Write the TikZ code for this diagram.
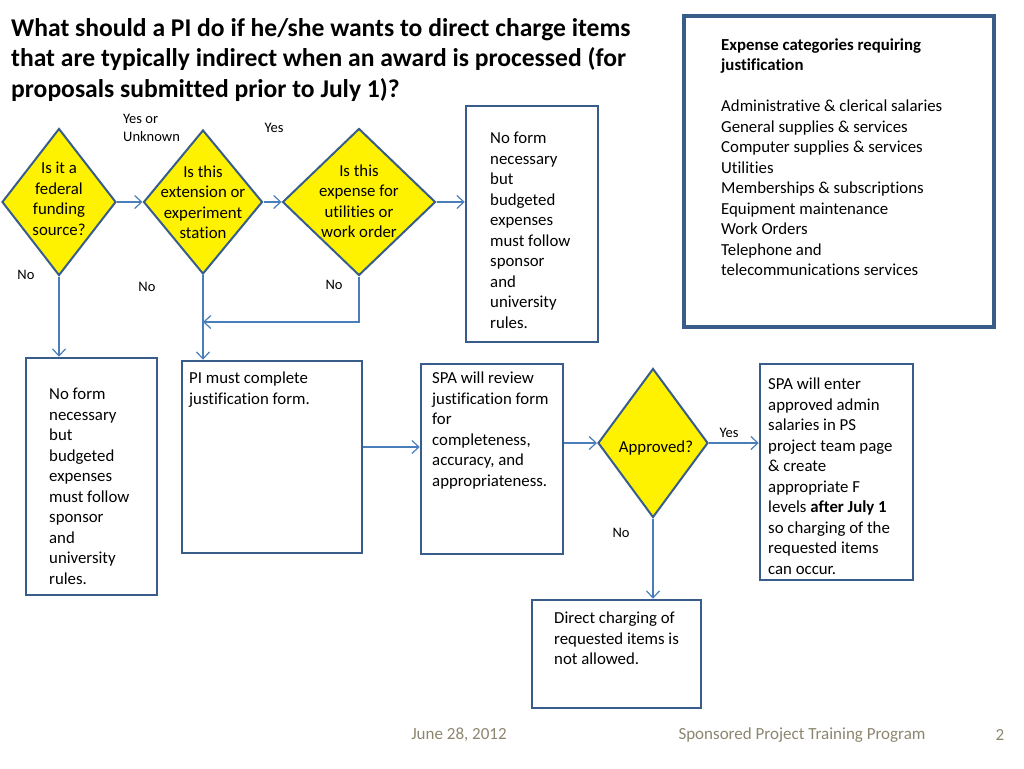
\documentclass[tikz,border=0pt]{standalone}
\usepackage{fontspec}
\setmainfont{Carlito}[Ligatures=NoCommon]
\usepackage{tikz}
\usetikzlibrary{positioning}
\usetikzlibrary{calc}
\usetikzlibrary{arrows.meta}
\usetikzlibrary{shapes.geometric}

\definecolor{boxline}{RGB}{56,93,138}
\definecolor{connline}{RGB}{74,126,187}
\definecolor{footgray}{RGB}{140,134,112}

\begin{document}
\begin{tikzpicture}[x=1pt,y=-1pt,
  box/.style={draw=boxline, line width=2.5pt, fill=white, inner sep=0pt},
  decision/.style={diamond, draw=boxline, line width=2pt, fill=yellow, inner sep=0pt},
  body/.style={inner sep=0pt, align=left, anchor=north west, font=\fontsize{16.8}{20.5}\selectfont},
  dtext/.style={inner sep=0pt, align=center, font=\fontsize{16.8}{20.5}\selectfont},
  small/.style={inner sep=0pt, align=left, font=\fontsize{14.5}{18}\selectfont},
  conn/.style={draw=connline, line width=1.2pt, -{Straight Barb[length=7pt,width=13pt]}},
  foot/.style={inner sep=0pt, text=footgray, font=\fontsize{17}{20}\selectfont}]
\useasboundingbox (0,0) rectangle (1024,768);

\node[inner sep=0pt, align=left, anchor=north west, font=\bfseries\fontsize{25.6}{30.5}\selectfont] (ttl) at (11,18)
  {What should a PI do if he/she wants to direct charge items\\that are typically indirect when an award is processed (for\\proposals submitted prior to July 1)?};

% decisions
\node[decision, minimum width=114pt, minimum height=147pt] (fedsrc) at (59,202) {};
\node[decision, minimum width=119pt, minimum height=144pt] (extstn) at (203,202) {};
\node[decision, minimum width=153pt, minimum height=147pt] (utilwo) at (359,202) {};
\node[decision, minimum width=110pt, minimum height=149pt] (approved) at (653,443) {};
\node[dtext] (fedsrc-t) at ([shift={(0,-3)}]fedsrc) {Is it a\\federal\\funding\\source?};
\node[dtext] (extstn-t) at ([shift={(0,0)}]extstn) {Is this\\extension or\\experiment\\station};
\node[dtext] (utilwo-t) at ([shift={(0,-1)}]utilwo) {Is this\\expense for\\utilities or\\work order};
\node[dtext] (approved-t) at ([shift={(3,5)}]approved) {Approved?};

% boxes
\node[box, minimum width=132pt, minimum height=236pt] (nofrmA) at (532,224) {};
\node[box, minimum width=131pt, minimum height=237pt] (nofrmB) at (91.5,476.5) {};
\node[box, minimum width=180pt, minimum height=192pt] (piform) at (272,457) {};
\node[box, minimum width=142pt, minimum height=190pt] (spareview) at (492,459) {};
\node[box, minimum width=153pt, minimum height=216pt] (spaenter) at (836.5,472) {};
\node[box, minimum width=169pt, minimum height=108pt] (nocharge) at (616.5,654) {};
\node[box, line width=4.5pt, minimum width=310pt, minimum height=311pt] (catbox) at (839,171.5) {};

\node[body] (nofrmA-t) at (490,132) {No form\\necessary\\but\\budgeted\\expenses\\must follow\\sponsor\\and\\university\\rules.};
\node[body] (nofrmB-t) at (49,388) {No form\\necessary\\but\\budgeted\\expenses\\must follow\\sponsor\\and\\university\\rules.};
\node[body] (piform-t) at (189,372) {PI must complete\\justification form.};
\node[body] (spareview-t) at (432,372) {SPA will review\\justification form\\for\\completeness,\\accuracy, and\\appropriateness.};
\node[body] (spaenter-t) at (768,378) {SPA will enter\\approved admin\\salaries in PS\\project team page\\\& create\\appropriate F\\levels \textbf{after July 1}\\so charging of the\\requested items\\can occur.};
\node[body] (nocharge-t) at (554,612) {Direct charging of\\requested items is\\not allowed.};
\node[body, font=\bfseries\fontsize{16.8}{20.5}\selectfont] (cathead) at (721,38.5) {Expense categories requiring\\justification};
\node[body] (catlist) at (721,100) {Administrative \& clerical salaries\\General supplies \& services\\Computer supplies \& services\\Utilities\\Memberships \& subscriptions\\Equipment maintenance\\Work Orders\\Telephone and\\telecommunications services};

% connectors
\draw[conn] (fedsrc.east) -- (extstn.west);
\draw[conn] (extstn.east) -- (utilwo.west);
\draw[conn] (utilwo.east) -- (utilwo.east -| nofrmA.west);
\draw[conn] (fedsrc.south) -- (fedsrc.south |- nofrmB.north);
\draw[conn] (extstn.south) -- (extstn.south |- piform.north);
\draw[conn] (utilwo.south) |- (extstn.south |- 0,322);
\draw[conn] (piform.east |- 0,447) -- (spareview.west |- 0,447);
\draw[conn] (spareview.east |- approved.west) -- (approved.west);
\draw[conn] (approved.east) -- (approved.east -| spaenter.west);
\draw[conn] (approved.south) -- (approved.south |- nocharge.north);

% labels
\node[small, anchor=north west] (yesunk) at (123,114) {Yes or\\Unknown};
\node[small] (yesB) at (274,128) {Yes};
\node[small] (noA) at (26,275) {No};
\node[small] (noB) at (147,287) {No};
\node[small] (noC) at (334,285) {No};
\node[small] (yesD) at (729,433) {Yes};
\node[small] (noE) at (621,533) {No};

% footer
\node[foot] (date) at (459,735) {June 28, 2012};
\node[foot] (prog) at (802,735) {Sponsored Project Training Program};
\node[foot] (pgno) at (1000,735) {2};
\end{tikzpicture}
\end{document}
